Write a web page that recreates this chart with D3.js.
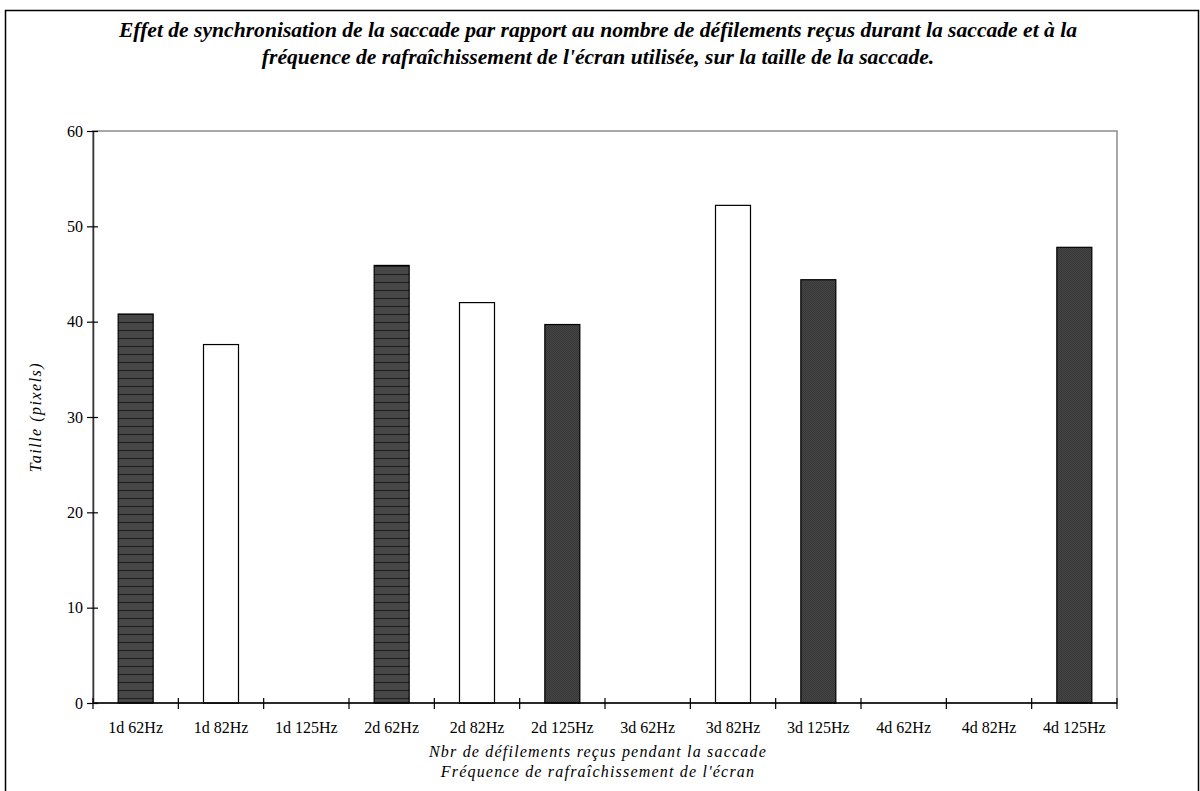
<!DOCTYPE html>
<html>
<head>
<meta charset="utf-8">
<script src="https://cdn.jsdelivr.net/npm/d3@7"></script>
<style>
  body { margin: 0; background: #fff; }
  text { font-family: "Liberation Serif", "Times New Roman", serif; }
</style>
</head>
<body>
<svg width="1200" height="791"></svg>
<script>
const categories = ['1d 62Hz', '1d 82Hz', '1d 125Hz', '2d 62Hz', '2d 82Hz', '2d 125Hz',
    '3d 62Hz', '3d 82Hz', '3d 125Hz', '4d 62Hz', '4d 82Hz', '4d 125Hz'];
const values = [40.8, 37.6, null, 45.9, 42.0, 39.7, null, 52.2, 44.4, null, null, 47.8];
const yTicks = [0, 10, 20, 30, 40, 50, 60];

const titleLines = [
    "Effet de synchronisation de la saccade par rapport au nombre de défilements reçus durant la saccade et à la",
    "fréquence de rafraîchissement de l'écran utilisée, sur la taille de la saccade."
];
const xTitleLines = ['Nbr de défilements reçus pendant la saccade', "Fréquence de rafraîchissement de l'écran"];

const margin = { top: 131, left: 93, right: 83, bottom: 88 };
const svgWidth = 1200, svgHeight = 791;
const width = svgWidth - margin.left - margin.right;
const height = svgHeight - margin.top - margin.bottom;

const svg = d3.select('svg');

// outer frame
svg.append('rect')
    .attr('x', 5.5).attr('y', 10.5)
    .attr('width', 1193).attr('height', 790)
    .attr('fill', 'none').attr('stroke', '#000').attr('stroke-width', 1.5);

// patterns
const defs = svg.append('defs');
const hatch = defs.append('pattern')
    .attr('id', 'hlines').attr('patternUnits', 'userSpaceOnUse')
    .attr('width', 8).attr('height', 8);
hatch.append('rect').attr('width', 8).attr('height', 8).attr('fill', '#474747');
hatch.append('rect').attr('y', 7).attr('width', 8).attr('height', 1).attr('fill', '#1e1e1e');

const dots = defs.append('pattern')
    .attr('id', 'dots').attr('patternUnits', 'userSpaceOnUse')
    .attr('width', 2).attr('height', 2);
dots.append('rect').attr('width', 2).attr('height', 2).attr('fill', '#444');
dots.append('rect').attr('width', 1).attr('height', 1).attr('fill', '#383838');
dots.append('rect').attr('x', 1).attr('y', 1).attr('width', 1).attr('height', 1).attr('fill', '#383838');

function fillFor(cat) {
    if (cat.endsWith('62Hz')) return 'url(#hlines)';
    if (cat.endsWith('125Hz')) return 'url(#dots)';
    return '#fff';
}

const g = svg.append('g').attr('transform', `translate(${margin.left},${margin.top})`);

const x = d3.scaleBand().domain(categories).range([0, width]).paddingInner(0).paddingOuter(0);
const y = d3.scaleLinear().domain([0, 60]).range([height, 0]);

// plot area border
g.append('rect')
    .attr('width', width).attr('height', height)
    .attr('fill', 'none').attr('stroke', '#8c8c8c').attr('stroke-width', 1.5);

// bars
const barW = 35;
g.selectAll('.bar')
    .data(categories.map((c, i) => ({ cat: c, v: values[i] })).filter(d => d.v != null))
    .enter().append('rect')
    .attr('class', 'bar')
    .attr('x', d => x(d.cat) + x.bandwidth() / 2 - barW / 2)
    .attr('y', d => y(d.v))
    .attr('width', barW)
    .attr('height', d => height - y(d.v))
    .attr('fill', d => fillFor(d.cat))
    .attr('stroke', '#000')
    .attr('stroke-width', 1.2);

// y axis
const yAxis = g.append('g')
    .call(d3.axisLeft(y).tickValues(yTicks).tickSize(0).tickPadding(10));
yAxis.select('.domain').attr('stroke', '#333').attr('stroke-width', 1.5);
yAxis.selectAll('.tick').append('line')
    .attr('x1', -6).attr('x2', 5).attr('stroke', '#000').attr('stroke-width', 1.2);
yAxis.selectAll('text').attr('font-size', 16).attr('fill', '#000')
    .style('font-family', '"Liberation Serif", serif');

// x axis
const xTickPos = d3.range(categories.length + 1).map(i => i * x.step());
const xAxis = g.append('g').attr('transform', `translate(0,${height})`);
xAxis.append('line').attr('x1', 0).attr('x2', width)
    .attr('stroke', '#000').attr('stroke-width', 1.5);
xAxis.selectAll('.xt').data(xTickPos).enter().append('line')
    .attr('x1', d => d).attr('x2', d => d)
    .attr('y1', -5).attr('y2', 6)
    .attr('stroke', '#000').attr('stroke-width', 1.2);
xAxis.selectAll('.xl').data(categories).enter().append('text')
    .attr('x', d => x(d) + x.bandwidth() / 2)
    .attr('y', 30)
    .attr('text-anchor', 'middle')
    .attr('font-size', 16)
    .text(d => d);

// title
svg.selectAll('.title').data(titleLines).enter().append('text')
    .attr('x', 598).attr('y', (d, i) => 37 + i * 27)
    .attr('text-anchor', 'middle')
    .attr('font-size', 21.6)
    .attr('font-weight', 'bold')
    .attr('font-style', 'italic')
    .text(d => d);

// x title
svg.selectAll('.xtitle').data(xTitleLines).enter().append('text')
    .attr('x', 598).attr('y', (d, i) => 757 + i * 20)
    .attr('text-anchor', 'middle')
    .attr('font-size', 16)
    .attr('font-style', 'italic')
    .attr('letter-spacing', 1.2)
    .text(d => d);

// y title
svg.append('text')
    .attr('transform', 'translate(41,417) rotate(-90)')
    .attr('text-anchor', 'middle')
    .attr('font-size', 16)
    .attr('font-style', 'italic')
    .attr('letter-spacing', 1.5)
    .text('Taille (pixels)');
</script>
</body>
</html>
